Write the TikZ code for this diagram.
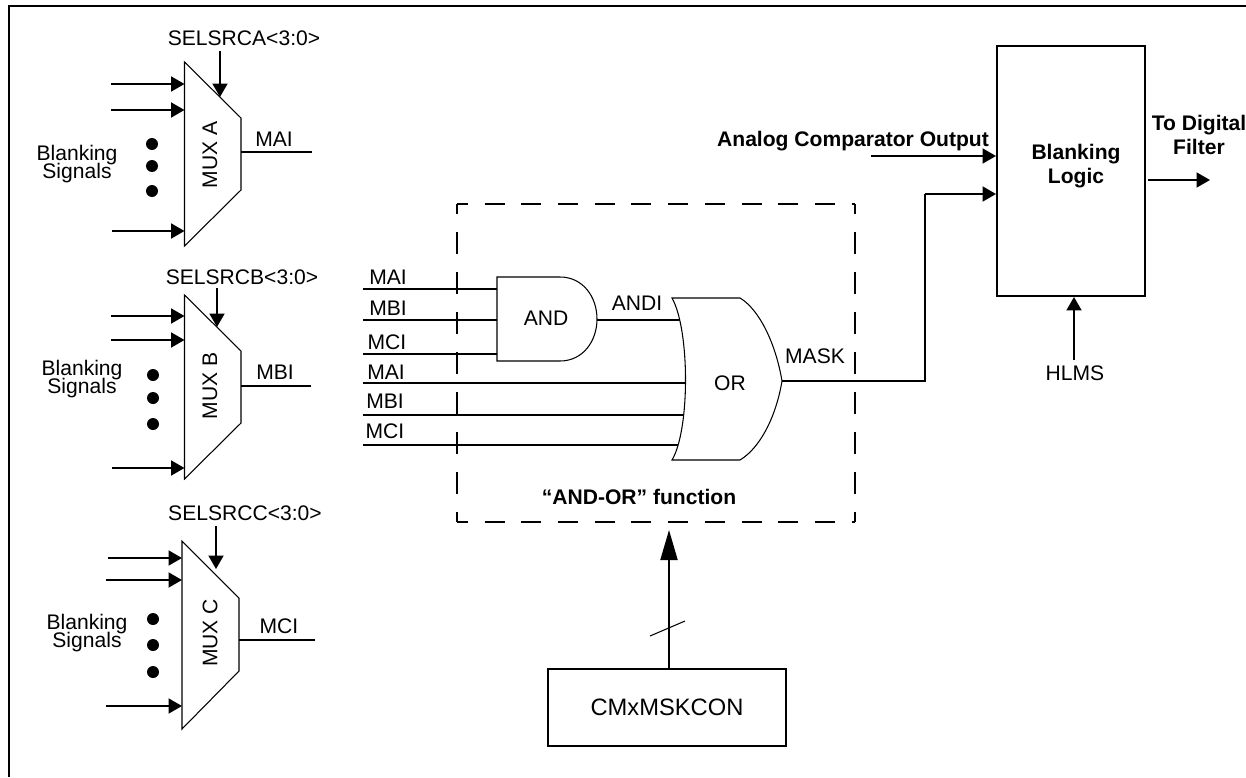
\documentclass[tikz,border=0pt]{standalone}
\usepackage{fontspec}
\setmainfont{Liberation Sans}
\usepackage{tikz}
\usetikzlibrary{arrows.meta, calc}

\begin{document}
\begin{tikzpicture}[
  x=0.02cm, y=-0.02cm,
  txt/.style={inner sep=0pt, align=center, font=\fontsize{12}{10}\selectfont},
  btxt/.style={inner sep=0pt, align=center, font=\fontsize{12}{13.5}\selectfont\bfseries},
  wire/.style={line width=1.15pt},
  arr/.style={wire, -{Triangle[length=0.27cm, width=0.3cm]}},
  bigarr/.style={wire, -{Triangle[length=0.6cm, width=0.34cm]}},
  gate/.style={line width=0.6pt, fill=white},
  box/.style={draw, line width=1.15pt, minimum width=#1, inner sep=0pt},
  dot/.style={circle, fill=black, minimum size=0.24cm, inner sep=0pt},
  dashh/.style={wire, dash pattern=on 0.4cm off 0.334cm, dash phase=0.18cm},
  dashv/.style={wire, dash pattern=on 0.44cm off 0.36cm, dash phase=0.24cm}
]
  \useasboundingbox (0,0) rectangle (1246,777);
  \draw[wire] (9,777) -- (9,6) -- (1246,6);

  \coordinate (in1a) at (111,84);
  \coordinate (in2a) at (111,110);
  \coordinate (in3a) at (112,231);
  \coordinate (sela) at (220,51);
  \coordinate (mai) at (312,152);
  \coordinate (in1b) at (111,316);
  \coordinate (in2b) at (111,340);
  \coordinate (in3b) at (112,468);
  \coordinate (selb) at (217,288);
  \coordinate (mbi) at (311,386);
  \coordinate (in1c) at (108,558);
  \coordinate (in2c) at (106,580);
  \coordinate (in3c) at (106,706);
  \coordinate (selc) at (216,526);
  \coordinate (mci) at (315,640);

  \draw[gate] (184.5,62) coordinate (muxal) -- (241,118) coordinate (muxar) -- (241,190) -- (184.5,246) -- cycle;
  \draw[gate] (184.5,295) coordinate (muxbl) -- (241,351) coordinate (muxbr) -- (241,423) -- (184.5,479) -- cycle;
  \draw[gate] (182,541) coordinate (muxcl) -- (239,598) coordinate (muxcr) -- (239,671) -- (182,729) -- cycle;

  \node[txt, rotate=90] (muxa) at (210,155) {MUX A};
  \node[txt, rotate=90] (muxb) at (210,386) {MUX B};
  \node[txt, rotate=90] (muxc) at (210,633) {MUX C};

  \node[txt] (sa) at (244,38) {SELSRCA<3:0>};
  \node[txt] (sb) at (242,277) {SELSRCB<3:0>};
  \node[txt] (sc) at (245,513) {SELSRCC<3:0>};
  \node[txt] (la) at (274,139) {MAI};
  \node[txt] (lb) at (275,372) {MBI};
  \node[txt] (lc) at (279,626) {MCI};
  \node[txt] (bsa) at (77,164) {Blanking\\[-1.6pt]Signals};
  \node[txt] (bsb) at (82,379) {Blanking\\[-1.6pt]Signals};
  \node[txt] (bsc) at (87,633) {Blanking\\[-1.6pt]Signals};

  \node[dot] (da1) at (152,144) {};
  \node[dot] (da2) at (152,166) {};
  \node[dot] (da3) at (152,191) {};
  \node[dot] (db1) at (153,375) {};
  \node[dot] (db2) at (153,398) {};
  \node[dot] (db3) at (153,424) {};
  \node[dot] (dc1) at (153,619) {};
  \node[dot] (dc2) at (153,645) {};
  \node[dot] (dc3) at (153,672) {};

  \draw[arr] (in1a) -- (in1a -| muxal);
  \draw[arr] (in2a) -- (in2a -| muxal);
  \draw[arr] (in3a) -- (in3a -| muxal);
  \draw[arr] (sela) -- (220,97);
  \draw[wire] (mai -| muxar) -- (mai);
  \draw[arr] (in1b) -- (in1b -| muxbl);
  \draw[arr] (in2b) -- (in2b -| muxbl);
  \draw[arr] (in3b) -- (in3b -| muxbl);
  \draw[arr] (selb) -- (217,327);
  \draw[wire] (mbi -| muxbr) -- (mbi);
  \draw[arr] (in1c) -- (in1c -| muxcl);
  \draw[arr] (in2c) -- (in2c -| muxcl);
  \draw[arr] (in3c) -- (in3c -| muxcl);
  \draw[arr] (selc) -- (216,569);
  \draw[wire] (mci -| muxcr) -- (mci);

  \coordinate (dtl) at (457,204);
  \coordinate (dbr) at (855,522);
  \draw[dashh] (dtl) -- (dtl -| dbr);
  \draw[dashh] (dtl |- dbr) -- (dbr);
  \draw[dashv] (dtl) -- (dtl |- dbr);
  \draw[dashv] (dtl -| dbr) -- (dbr);

  \coordinate (i1) at (363,289);
  \coordinate (i2) at (363,320);
  \coordinate (i3) at (363,354);
  \coordinate (i4) at (363,383);
  \coordinate (i5) at (363,415);
  \coordinate (i6) at (363,445);
  \coordinate (andl) at (497,319);
  \coordinate (andr) at (597,320);
  \coordinate (orl) at (692,380);
  \coordinate (orr) at (782,381);
  \coordinate (mcorner) at (925,381);

  \draw[wire] (i1) -- (i1 -| andl);
  \draw[wire] (i2) -- (i2 -| andl);
  \draw[wire] (i3) -- (i3 -| andl);
  \draw[wire] (i4) -- (i4 -| orl);
  \draw[wire] (i5) -- (i5 -| orl);
  \draw[wire] (i6) -- (i6 -| orl);
  \draw[wire] (andr) -- (andr -| orl);

  \draw[gate] (497,277) -- (560,277) .. controls (583,277) and (597,297) .. (597,319) .. controls (597,341) and (583,361) .. (560,361) -- (497,361) -- cycle;
  \draw[gate] (672,298) -- (740,298) .. controls (760,310) and (776,345) .. (782,381) .. controls (776,417) and (760,448) .. (740,460) -- (672,460) .. controls (690,430) and (690,330) .. (672,298) -- cycle;

  \node[txt] (andg) at (546,318) {AND};
  \node[txt] (org) at (730,383) {OR};
  \node[txt] (andi) at (637,303) {ANDI};
  \node[txt] (mask) at (815,356) {MASK};
  \node[txt] (l1) at (388,277) {MAI};
  \node[txt] (l2) at (388,308) {MBI};
  \node[txt] (l3) at (387,342) {MCI};
  \node[txt] (l4) at (386,372) {MAI};
  \node[txt] (l5) at (385,401) {MBI};
  \node[txt] (l6) at (385,431) {MCI};
  \node[btxt] (func) at (639,497) {``AND-OR'' function};

  \node[box=2.96cm, minimum height=5cm] (logic) at (1071,171) {};
  \node[btxt] (logict) at (1076,166) {Blanking\\Logic};
  \node[txt, box=4.76cm, minimum height=1.54cm, font=\fontsize{13.5}{15}\selectfont] (con) at (667,707.5) {CMxMSKCON};

  \node[btxt] (cmp) at (853,141) {Analog Comparator Output};
  \node[btxt] (filt) at (1199,135) {To Digital\\Filter};
  \node[txt] (hlms) at (1075,373) {HLMS};

  \coordinate (cmpin) at (871,156);
  \coordinate (fout) at (1210,180);
  \coordinate (hl) at (1074,360);
  \coordinate (mt) at (925,194);

  \draw[arr] (cmpin) -- (cmpin -| logic.west);
  \draw[wire] (orr) -- (mcorner) -- (mt);
  \draw[arr] (mt) -- (mt -| logic.west);
  \draw[arr] (fout -| logic.east) ++(2,0) -- (fout);
  \draw[arr] (hl) -- (hl |- logic.south);
  \draw[bigarr] (con.north -| 669,0) -- (669,530);
  \draw[line width=0.6pt] (650,636) -- (685,621);
\end{tikzpicture}
\end{document}
